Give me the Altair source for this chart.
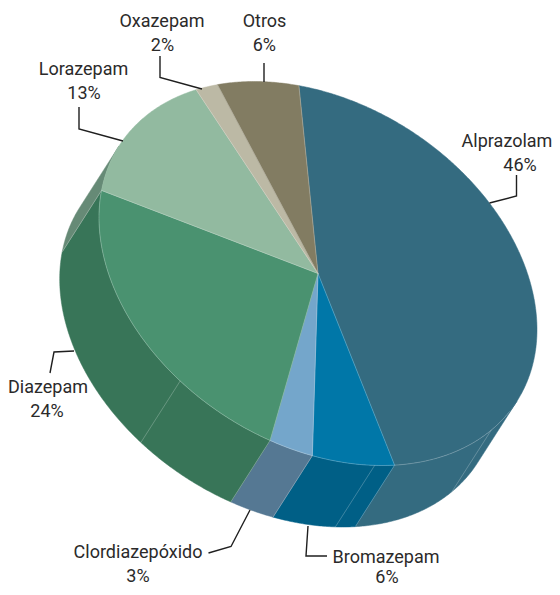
import math
import altair as alt

# Chart data
names = ["Alprazolam", "Bromazepam", "Clordiazepóxido", "Diazepam", "Lorazepam", "Oxazepam", "Otros"]
percent_labels = ["46%", "6%", "3%", "24%", "13%", "2%", "6%"]
shares = [45.7, 6.1, 3.1, 23.9, 13.2, 1.8, 6.2]
top_colors = ["#346b80", "#0077a8", "#74a6cb", "#4a9270", "#92baa0", "#bcb9a5", "#827c62"]
side_colors = ["#346b80", "#005f86", "#557893", "#387558", "#668a76", "#bcb9a5", "#827c62"]

# Label placement in page pixels
name_x = [507, 386, 138, 48, 83.5, 162, 264.5]
name_y = [147, 562.5, 557.5, 392.5, 75, 26.7, 27]
pct_x = [520, 387, 138, 47, 84, 162.5, 264.3]
pct_y = [171, 583, 581.5, 416.5, 99, 51, 51]
leaders = [
    [[489.5, 203], [516.5, 196], [516.5, 175]],
    [[308, 526], [306, 556], [327, 556]],
    [[208.5, 553], [231, 546.5], [250, 510]],
    [[50, 373], [54, 352], [74, 351]],
    [[79, 107], [79, 129], [123, 141]],
    [[160, 56], [160, 77.5], [202, 89]],
    [[264, 63], [264, 82]],
]

# Tilted-disc geometry
CX, CY = 318.0, 273.5
AXX, AYX, AYY = 219.0, 56.0, 183.65
DX, DY = -39.3, 61.5
START = 265.0
TANGENT = 24.7
SIDE_SEAMS = [37.7, 75.0, 129.0]


def pt(t, off=False):
    r = math.radians(t)
    c, s = math.cos(r), math.sin(r)
    x = CX + AXX * c
    y = CY + AYX * c + AYY * s
    return [x + DX, y + DY] if off else [x, y]


def arc(a, b, off=False):
    n = max(2, int(abs(b - a) * 2))
    return [pt(a + (b - a) * i / n, off) for i in range(n + 1)]


def feature(kind, coords, key=""):
    return {"type": "Feature", "properties": {"key": key},
            "geometry": {"type": kind, "coordinates": coords}}


# slice boundaries
bounds = [START]
for v in shares:
    bounds.append(bounds[-1] + v * 3.6)
spans = list(zip(bounds[:-1], bounds[1:]))

tops, sides, hair = [], [], []
for name, (a, b) in zip(names, spans):
    ring = [[CX, CY]] + arc(a, b) + [[CX, CY]]
    tops.append(feature("Polygon", [ring], name))
    hair.append(feature("LineString", [[CX, CY], pt(a)]))

    # the visible wall is the part of the rim between the two tangent points
    for shift in (0, 360):
        lo, hi = max(a - shift, TANGENT), min(b - shift, TANGENT + 180)
        if lo < hi:
            ring = arc(lo, hi) + arc(hi, lo, True)
            ring.append(ring[0])
            sides.append(feature("Polygon", [ring], name))
            if lo > TANGENT:
                hair.append(feature("LineString", [pt(lo), pt(lo, True)]))

for t in SIDE_SEAMS:
    hair.append(feature("LineString", [pt(t), pt(t, True)]))
hair.append(feature("LineString", arc(29.0, bounds[4] - 360)))

lead = [feature("LineString", c) for c in leaders]

proj = dict(type="identity", scale=1, translate=[-8, -8])


def fills(key_colors):
    return alt.Color("properties.key:N",
                     scale=alt.Scale(domain=names, range=key_colors), legend=None)


def edges(key_colors):
    return alt.Stroke("properties.key:N",
                      scale=alt.Scale(domain=names, range=key_colors), legend=None)


side_layer = alt.Chart(alt.Data(values=sides)).mark_geoshape(strokeWidth=0.5).encode(
    color=fills(side_colors), stroke=edges(side_colors)
).project(**proj)

top_layer = alt.Chart(alt.Data(values=tops)).mark_geoshape(strokeWidth=0.5).encode(
    color=fills(top_colors), stroke=edges(top_colors)
).project(**proj)

hair_layer = alt.Chart(alt.Data(values=hair)).mark_geoshape(
    filled=False, stroke="#ffffff", strokeWidth=0.6, strokeOpacity=0.4
).project(**proj)

lead_layer = alt.Chart(alt.Data(values=lead)).mark_geoshape(
    filled=False, stroke="#1f1f1f", strokeWidth=1.4
).project(**proj)

rows = []
for i, n in enumerate(names):
    rows.append({"t": n, "x": name_x[i], "y": name_y[i]})
    rows.append({"t": percent_labels[i], "x": pct_x[i], "y": pct_y[i]})

text_layer = alt.Chart(alt.Data(values=rows)).mark_text(
    font="Roboto", fontSize=18, color="#2b2a2a",
    align="center", baseline="alphabetic"
).encode(longitude="x:Q", latitude="y:Q", text="t:N").project(**proj)

chart = alt.layer(side_layer, top_layer, hair_layer, lead_layer, text_layer).resolve_scale(
    color="independent", stroke="independent"
).properties(
    width=544, height=579, padding=0,
    autosize=alt.AutoSizeParams(type="none"),
).configure_view(stroke=None)

chart.save("out.html", embed_options={"renderer": "svg", "actions": False})
